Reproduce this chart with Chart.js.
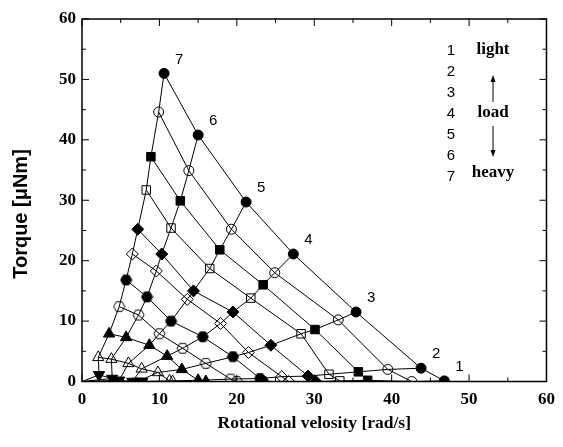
<!DOCTYPE html>
<html lang="en">
<head>
<meta charset="UTF-8" />
<title>Torque vs rotational velocity</title>
<style>
  html, body { margin: 0; padding: 0; background: #fff; }
</style>
<script src="https://cdn.jsdelivr.net/npm/chart.js"></script>
</head>
<body>
<canvas id="myChart" width="563" height="447"></canvas>
<script>
  // load curves, heavy (7) to light (1); every array below is ordered the same way
  const loadLabels = ['7', '6', '5', '4', '3', '2', '1'];

  // velocity [rad/s] and torque [uNm] per marker level
  const velFilledCircle = [10.6, 15.0, 21.2, 27.3, 35.4, 43.8, 46.8];
  const torFilledCircle = [51.0, 40.8, 29.7, 21.1, 11.5, 2.2, 0.1];
  const velOpenCircle = [9.9, 13.8, 19.3, 24.9, 33.1, 39.5, 42.6];
  const torOpenCircle = [44.6, 34.9, 25.2, 18.0, 10.2, 2.0, 0.0];
  const velFilledSquare = [8.9, 12.7, 17.8, 23.4, 30.1, 35.7, 36.9];
  const torFilledSquare = [37.2, 29.9, 21.8, 16.0, 8.6, 1.6, 0.2];
  const velOpenSquare = [8.3, 11.5, 16.5, 21.8, 28.3, 31.9, 33.3];
  const torOpenSquare = [31.7, 25.4, 18.7, 13.8, 7.9, 1.2, 0.1];
  const velFilledDiamond = [7.2, 10.3, 14.4, 19.5, 24.4, 29.2, 30.2];
  const torFilledDiamond = [25.2, 21.1, 15.0, 11.5, 6.0, 0.9, 0.0];
  const velOpenDiamond = [6.5, 9.6, 13.6, 17.9, 21.5, 25.8, 26.7];
  const torOpenDiamond = [21.1, 18.3, 13.6, 9.6, 4.8, 0.8, 0.0];
  const velFilledHex = [5.7, 8.4, 11.5, 15.6, 19.5, 23.0, 23.4];
  const torFilledHex = [16.8, 14.0, 10.0, 7.4, 4.1, 0.5, 0.0];
  const velOpenHex = [4.8, 7.3, 10.0, 13.0, 16.0, 19.2, 20.0];
  const torOpenHex = [12.4, 11.0, 7.9, 5.5, 3.0, 0.4, 0.0];
  const velFilledUp = [3.5, 5.7, 8.7, 11.0, 12.9, 15.0, 16.0];
  const torFilledUp = [7.9, 7.3, 6.0, 4.2, 2.0, 0.2, 0.0];
  const velOpenUp = [2.1, 3.8, 6.0, 7.7, 9.8, 11.3, 11.7];
  const torOpenUp = [4.0, 3.7, 3.0, 2.1, 1.5, 0.1, 0.0];
  const velFilledDown = [2.2, 3.9, 4.8, 6.5, 7.2, 7.6, 7.8];
  const torFilledDown = [1.1, 0.5, 0.2, 0.0, 0.0, 0.0, 0.0];

  const axisTicks = [0, 10, 20, 30, 40, 50, 60];

  // hexagon markers as small canvases
  function hexagon(filled) {
    const c = document.createElement('canvas');
    c.width = 13; c.height = 13;
    const g = c.getContext('2d');
    g.beginPath();
    for (let i = 0; i < 6; i++) {
      const a = Math.PI / 3 * i;
      const px = 6.5 + 5.6 * Math.cos(a), py = 6.5 + 5.6 * Math.sin(a);
      i ? g.lineTo(px, py) : g.moveTo(px, py);
    }
    g.closePath();
    if (filled) { g.fillStyle = '#000'; g.fill(); }
    g.strokeStyle = '#000'; g.lineWidth = 1; g.stroke();
    return c;
  }

  const levels = [
    { v: velFilledCircle, t: torFilledCircle, style: 'circle', fill: true, r: 5 },
    { v: velOpenCircle, t: torOpenCircle, style: 'circle', fill: false, r: 5 },
    { v: velFilledSquare, t: torFilledSquare, style: 'rect', fill: true, r: 6 },
    { v: velOpenSquare, t: torOpenSquare, style: 'rect', fill: false, r: 6 },
    { v: velFilledDiamond, t: torFilledDiamond, style: 'rectRot', fill: true, r: 6 },
    { v: velOpenDiamond, t: torOpenDiamond, style: 'rectRot', fill: false, r: 6 },
    { v: velFilledHex, t: torFilledHex, style: hexagon(true), fill: true, r: 6 },
    { v: velOpenHex, t: torOpenHex, style: hexagon(false), fill: false, r: 6 },
    { v: velFilledUp, t: torFilledUp, style: 'triangle', fill: true, r: 6.5 },
    { v: velOpenUp, t: torOpenUp, style: 'triangle', fill: false, r: 6.5 },
    { v: velFilledDown, t: torFilledDown, style: 'triangle', fill: true, r: 6.5, rot: 180 }
  ];

  const datasets = [];
  // marker series (drawn on top)
  levels.forEach(l => {
    datasets.push({
      data: l.v.map((v, i) => ({ x: v, y: l.t[i] })),
      showLine: true,
      borderColor: '#000',
      borderWidth: 1,
      pointStyle: l.style,
      pointRadius: l.r,
      pointRotation: l.rot || 0,
      pointBackgroundColor: l.fill ? '#000' : 'rgba(0,0,0,0)',
      pointBorderColor: '#000',
      pointBorderWidth: 1
    });
  });
  // load curves, from origin up through each marker level
  loadLabels.forEach((lab, k) => {
    const pts = [{ x: 0, y: 0 }];
    for (let m = levels.length - 1; m >= 0; m--) {
      pts.push({ x: levels[m].v[k], y: levels[m].t[k] });
    }
    datasets.push({
      data: pts,
      showLine: true,
      borderColor: '#000',
      borderWidth: 1,
      pointRadius: 0
    });
  });

  const framePlugin = {
    id: 'frame',
    afterDatasetsDraw(chart) {
      const { ctx, chartArea: a, scales: { x, y } } = chart;
      ctx.save();
      ctx.strokeStyle = '#000';
      ctx.lineWidth = 1.5;
      ctx.strokeRect(a.left, a.top, a.right - a.left, a.bottom - a.top);
      ctx.lineWidth = 1;
      ctx.beginPath();
      for (let v = 0; v <= 60; v += 5) {
        const len = v % 10 === 0 ? 7 : 4;
        const px = x.getPixelForValue(v), py = y.getPixelForValue(v);
        ctx.moveTo(px, a.bottom); ctx.lineTo(px, a.bottom - len);
        ctx.moveTo(px, a.top); ctx.lineTo(px, a.top + len);
        ctx.moveTo(a.left, py); ctx.lineTo(a.left + len, py);
        ctx.moveTo(a.right, py); ctx.lineTo(a.right - len, py);
      }
      ctx.stroke();

      // y axis title
      ctx.fillStyle = '#000';
      ctx.textAlign = 'center';
      ctx.textBaseline = 'middle';
      ctx.save();
      ctx.translate(21, 214);
      ctx.rotate(-Math.PI / 2);
      ctx.font = 'bold 20px "Liberation Sans", Arial, sans-serif';
      ctx.fillText('Torque [μNm]', 0, 0);
      ctx.restore();

      // load numbers next to the filled circles
      ctx.font = '15px "Liberation Sans", Arial, sans-serif';
      loadLabels.forEach((lab, k) => {
        ctx.fillText(lab, x.getPixelForValue(velFilledCircle[k]) + 15,
                          y.getPixelForValue(torFilledCircle[k]) - 14);
      });

      // key in the upper right
      ['1', '2', '3', '4', '5', '6', '7'].forEach((n, i) => {
        ctx.fillText(n, 451, 51 + i * 21);
      });
      ctx.font = 'bold 17px "Liberation Serif", "Times New Roman", serif';
      ctx.fillText('light', 493, 50);
      ctx.fillText('load', 493, 113);
      ctx.fillText('heavy', 493, 173);
      ctx.beginPath();
      ctx.moveTo(493, 102); ctx.lineTo(493, 80);
      ctx.moveTo(493, 126); ctx.lineTo(493, 152);
      ctx.stroke();
      ctx.beginPath();
      ctx.moveTo(493, 75); ctx.lineTo(490.5, 82); ctx.lineTo(495.5, 82); ctx.closePath();
      ctx.moveTo(493, 157); ctx.lineTo(490.5, 150); ctx.lineTo(495.5, 150); ctx.closePath();
      ctx.fill();
      ctx.restore();
    }
  };

  const tickFont = { family: '"Liberation Serif", "Times New Roman", serif', size: 17, weight: 'bold' };

  new Chart(document.getElementById('myChart').getContext('2d'), {
    type: 'scatter',
    data: { datasets },
    options: {
      responsive: false,
      animation: false,
      layout: { padding: { left: 0, right: 13, top: 19, bottom: 0 } },
      plugins: { legend: { display: false }, tooltip: { enabled: false } },
      scales: {
        x: {
          type: 'linear', min: 0, max: 60,
          afterBuildTicks: s => { s.ticks = axisTicks.map(v => ({ value: v })); },
          ticks: { color: '#000', font: tickFont, padding: 8 },
          grid: { display: false, drawTicks: false },
          border: { display: false },
          title: {
            display: true, text: 'Rotational velosity [rad/s]', color: '#000',
            font: { family: '"Liberation Serif", "Times New Roman", serif', size: 17.5, weight: 'bold' },
            padding: { top: 0, bottom: 13 }
          },
          afterFit: s => { s.height = 65.5; }
        },
        y: {
          type: 'linear', min: 0, max: 60,
          afterBuildTicks: s => { s.ticks = axisTicks.map(v => ({ value: v })); },
          ticks: { color: '#000', font: tickFont, padding: 6 },
          grid: { display: false, drawTicks: false },
          border: { display: false },
          afterFit: s => { s.width = 82; }
        }
      }
    },
    plugins: [framePlugin]
  });
</script>
</body>
</html>
